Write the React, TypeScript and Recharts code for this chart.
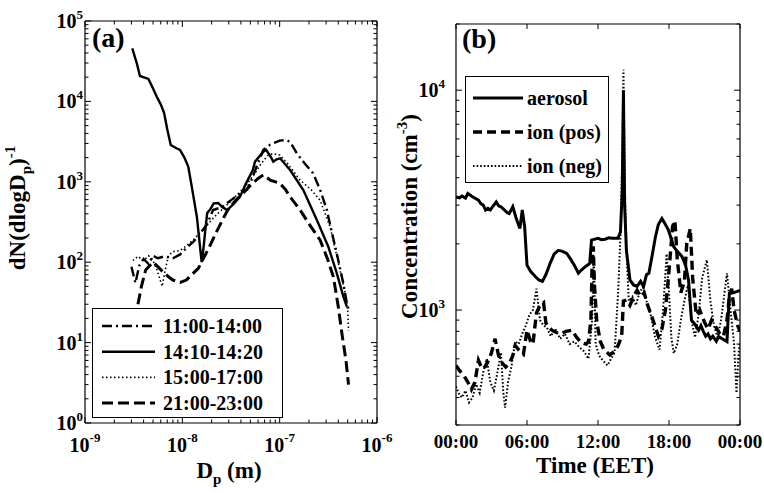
import React from 'react';
import { LineChart, Line, XAxis, YAxis, Legend } from 'recharts';

const FONT = '"Liberation Serif", "Times New Roman", serif';
const INK = '#000';

// (a) size distributions: [Dp (m), dN/dlogDp]
const dist1100 = [
  [3.0e-9, 88], [3.3e-9, 55], [3.6e-9, 90], [4.0e-9, 110], [4.5e-9, 95], [5.0e-9, 120],
  [5.6e-9, 112], [6.5e-9, 118], [8.0e-9, 112], [9.5e-9, 125], [1.1e-8, 150], [1.3e-8, 180],
  [1.5e-8, 220], [1.8e-8, 300], [2.07e-8, 446], [2.5e-8, 480], [2.86e-8, 540], [3.5e-8, 650],
  [4.0e-8, 720], [4.6e-8, 800], [5.0e-8, 970], [5.8e-8, 1550], [6.8e-8, 2500], [8.0e-8, 2900],
  [8.8e-8, 3050], [1.0e-7, 3250], [1.15e-7, 3300], [1.28e-7, 3150], [1.5e-7, 2260], [1.8e-7, 1700],
  [2.2e-7, 1280], [2.6e-7, 800], [3.05e-7, 447], [3.4e-7, 250], [3.86e-7, 129], [4.5e-7, 55],
  [4.9e-7, 31], [5.1e-7, 26],
];
const dist1410 = [
  [3.06e-9, 45700], [3.4e-9, 30000], [3.67e-9, 20700], [4.1e-9, 19800], [4.48e-9, 19000],
  [5.0e-9, 14500], [5.46e-9, 11400], [6.0e-9, 9200], [6.49e-9, 7200], [7.0e-9, 4500],
  [7.6e-9, 2870], [8.5e-9, 2650], [9.46e-9, 2490], [1.05e-8, 2000], [1.15e-8, 1550],
  [1.25e-8, 870], [1.41e-8, 368], [1.52e-8, 155], [1.58e-8, 100], [1.65e-8, 150], [1.71e-8, 230],
  [1.8e-8, 409], [1.95e-8, 460], [2.1e-8, 540], [2.33e-8, 545], [2.6e-8, 480], [2.9e-8, 446],
  [3.4e-8, 540], [3.92e-8, 653], [4.5e-8, 950], [5.3e-8, 1400], [5.58e-8, 1780], [6.8e-8, 2370],
  [7.25e-8, 2490], [8.0e-8, 2100], [8.61e-8, 1780], [9.3e-8, 1900], [1.01e-7, 1960],
  [1.28e-7, 1400], [1.75e-7, 791], [2.41e-7, 335], [3.16e-7, 156], [3.86e-7, 73], [4.52e-7, 37],
  [4.9e-7, 28],
];
const dist1500 = [
  [3.1e-9, 105], [3.5e-9, 118], [4.0e-9, 105], [4.5e-9, 120], [4.9e-9, 110], [5.5e-9, 80],
  [6.2e-9, 50], [6.6e-9, 75], [7.2e-9, 120], [8.0e-9, 135], [9.5e-9, 140], [1.1e-8, 160],
  [1.3e-8, 190], [1.5e-8, 230], [1.8e-8, 290], [2.2e-8, 380], [2.8e-8, 500], [3.5e-8, 650],
  [4.5e-8, 900], [5.5e-8, 1250], [6.5e-8, 1700], [7.5e-8, 2100], [8.5e-8, 2250], [1.0e-7, 2150],
  [1.2e-7, 1700], [1.62e-7, 1050], [2.1e-7, 800], [2.6e-7, 590], [3.3e-7, 275], [4.18e-7, 79],
  [4.7e-7, 42], [5.0e-7, 25], [5.1e-7, 14],
];
const dist2100 = [
  [3.5e-9, 30], [3.8e-9, 50], [4.2e-9, 80], [5.0e-9, 100], [5.5e-9, 90], [6.3e-9, 76],
  [7.2e-9, 66], [8.0e-9, 60], [9.5e-9, 56], [1.1e-8, 60], [1.25e-8, 70], [1.46e-8, 84],
  [1.7e-8, 120], [1.94e-8, 164], [2.25e-8, 240], [2.9e-8, 440], [3.5e-8, 580], [4.2e-8, 720],
  [5.0e-8, 900], [6.0e-8, 1100], [6.8e-8, 1220], [8.0e-8, 1050], [1.0e-7, 960], [1.15e-7, 800],
  [1.28e-7, 650], [1.62e-7, 447], [2.0e-7, 300], [2.6e-7, 189], [3.1e-7, 110], [3.56e-7, 66],
  [4.0e-7, 28], [4.4e-7, 12], [4.8e-7, 6], [5.1e-7, 3],
];

// (b) time series: [hour of day, concentration cm^-3]
const aerosol = [
  [0, 3270], [0.3, 3240], [0.5, 3300], [0.8, 3230], [1, 3390], [1.3, 3300], [1.5, 3250],
  [1.9, 3160], [2.1, 3050], [2.3, 3000], [2.5, 2850], [2.7, 2900], [2.9, 2850], [3.1, 2950],
  [3.4, 3100], [3.6, 2980], [3.8, 2950], [4.1, 2850], [4.3, 2780], [4.5, 2750], [4.8, 2950],
  [5.1, 2600], [5.4, 2350], [5.6, 2850], [5.8, 2400], [6.0, 1600], [6.3, 1500], [6.7, 1420],
  [7.0, 1370], [7.3, 1350], [7.6, 1450], [7.95, 1630], [8.3, 1800], [8.65, 1870], [9.0, 1850],
  [9.36, 1810], [9.7, 1700], [10.0, 1600], [10.34, 1470], [10.6, 1520], [10.9, 1570],
  [11.3, 1630], [11.45, 2080], [12.0, 2120], [12.3, 2090], [12.6, 2100], [12.9, 2130],
  [13.2, 2120], [13.7, 2120], [13.9, 2270], [14.05, 3500], [14.15, 10000], [14.25, 3000],
  [14.4, 1870], [14.7, 1370], [15.0, 1300], [15.3, 1280], [15.6, 1350], [15.85, 1280],
  [16.1, 1450], [16.3, 1470], [16.6, 1800], [16.85, 2150], [17.1, 2450], [17.4, 2610],
  [17.7, 2450], [17.95, 2310], [18.2, 2100], [18.4, 1940], [18.7, 1850], [19.1, 1750],
  [19.4, 1600], [19.65, 1370], [19.9, 900], [20.2, 860], [20.5, 810], [20.7, 850], [20.9, 800],
  [21.1, 760], [21.3, 780], [21.5, 740], [21.7, 760], [22.0, 720], [22.2, 757], [22.5, 740],
  [22.9, 718], [23.1, 1190], [23.5, 1200], [24, 1230],
];
const ionPos = [
  [0, 560], [0.3, 530], [0.7, 500], [1.0, 470], [1.3, 435], [1.6, 470], [1.9, 590], [2.2, 540],
  [2.5, 555], [2.8, 600], [3.0, 640], [3.3, 740], [3.6, 620], [3.9, 575], [4.2, 550], [4.5, 570],
  [4.8, 620], [5.0, 690], [5.3, 660], [5.7, 630], [6.0, 810], [6.3, 720], [6.5, 700], [6.8, 970],
  [7.1, 1050], [7.4, 1080], [7.6, 870], [7.9, 830], [8.1, 810], [8.5, 790], [8.9, 780],
  [9.3, 800], [9.8, 810], [10.2, 750], [10.6, 710], [11.0, 700], [11.2, 720], [11.4, 900],
  [11.5, 1600], [11.6, 1950], [11.7, 1300], [11.9, 880], [12.2, 720], [12.5, 660], [13.0, 625],
  [13.4, 650], [13.7, 690], [14.0, 760], [14.15, 1100], [14.4, 1110], [14.7, 1050], [15.0, 1150],
  [15.3, 1230], [15.6, 1150], [15.9, 1200], [16.2, 1050], [16.5, 950], [16.8, 850], [17.1, 760],
  [17.4, 820], [17.7, 1000], [18.0, 1500], [18.3, 2400], [18.5, 2550], [18.7, 1700],
  [19.0, 1200], [19.3, 1350], [19.5, 2000], [19.8, 2350], [20.0, 1400], [20.3, 950],
  [20.6, 1000], [21.0, 880], [21.3, 820], [21.6, 900], [22.0, 830], [22.3, 780], [22.6, 760],
  [22.9, 900], [23.1, 1150], [23.3, 1250], [23.5, 1000], [23.8, 850], [24, 800],
];
const ionNeg = [
  [0, 450], [0.2, 420], [0.5, 400], [0.8, 430], [1.1, 380], [1.4, 400], [1.7, 460], [2.0, 420],
  [2.3, 520], [2.6, 600], [2.9, 470], [3.2, 430], [3.5, 520], [3.8, 640], [4.0, 420],
  [4.15, 360], [4.4, 470], [4.7, 560], [5.0, 720], [5.3, 700], [5.6, 780], [5.9, 850],
  [6.2, 950], [6.5, 1000], [6.8, 1250], [7.1, 900], [7.4, 850], [7.7, 830], [8.0, 760],
  [8.4, 820], [8.8, 740], [9.2, 780], [9.6, 700], [10.0, 720], [10.4, 680], [10.8, 650],
  [11.2, 600], [11.5, 900], [11.65, 1750], [11.8, 700], [12.1, 620], [12.4, 590], [12.8, 560],
  [13.1, 600], [13.4, 640], [13.7, 1200], [13.9, 2200], [14.05, 5000], [14.15, 12400],
  [14.25, 4000], [14.4, 1900], [14.6, 1100], [14.9, 1150], [15.2, 1050], [15.5, 1200],
  [15.8, 1270], [16.1, 1100], [16.5, 930], [16.8, 760], [17.2, 660], [17.5, 1000], [17.8, 1800],
  [18.0, 1200], [18.2, 750], [18.4, 635], [18.7, 700], [19.0, 900], [19.3, 1100], [19.6, 1300],
  [19.9, 900], [20.2, 750], [20.5, 950], [20.8, 1400], [21.2, 1690], [21.5, 1100], [21.8, 850],
  [22.1, 750], [22.4, 900], [22.9, 1470], [23.2, 1000], [23.5, 700], [23.7, 420], [23.9, 650],
  [24, 720],
];

const timeTicks = [0, 6, 12, 18, 24];
const timeLabels = ['00:00', '06:00', '12:00', '18:00', '00:00'];

const toPts = (arr: number[][]) => arr.map(([x, y]) => ({ x, y }));

const sizeSeries = [
  { name: '11:00-14:00', pts: dist1100, dash: '10 4 2 4', width: 2.4 },
  { name: '14:10-14:20', pts: dist1410, dash: undefined, width: 2.4 },
  { name: '15:00-17:00', pts: dist1500, dash: '1.5 2.5', width: 1.6 },
  { name: '21:00-23:00', pts: dist2100, dash: '11 5', width: 3 },
];
const timeSeries = [
  { name: 'aerosol', pts: aerosol, dash: undefined, width: 3 },
  { name: 'ion (pos)', pts: ionPos, dash: '9 5', width: 3.4 },
  { name: 'ion (neg)', pts: ionNeg, dash: '1.6 2', width: 2 },
];

// log ticks: 1..9 per decade
const decadeTicks = (from: number, to: number) => {
  const out: number[] = [];
  for (let e = from; e < to; e++) {
    for (let m = 1; m <= 9; m++) out.push(Number(`${m}e${e}`));
  }
  out.push(Number(`1e${to}`));
  return out;
};
const sizeTicks = decadeTicks(-9, -6);
const dndTicks = decadeTicks(0, 5);
const concTicks = [...decadeTicks(2, 4).filter((v) => v >= 300), 20000];

const isPow10 = (v: number) => {
  const e = Math.log10(v);
  return Math.abs(e - Math.round(e)) < 1e-6;
};
const exp10 = (v: number) => Math.round(Math.log10(v));

const txt = { fontFamily: FONT, fontWeight: 700, fill: INK } as const;

type Side = 'left' | 'right' | 'top' | 'bottom';
type LabelFn = (x: number, y: number, v: number) => React.ReactNode;

function makeTick(side: Side, major: (v: number) => boolean, label?: LabelFn, majorLen = 6, minorLen = 3.5) {
  return function Tick(props: any) {
    const { x, y, payload } = props;
    const v = payload.value;
    const big = major(v);
    const len = big ? majorLen : minorLen;
    const dx = side === 'left' ? len : side === 'right' ? -len : 0;
    const dy = side === 'bottom' ? -len : side === 'top' ? len : 0;
    return (
      <g>
        <line x1={x} y1={y} x2={x + dx} y2={y + dy} stroke={INK} strokeWidth={1} />
        {big && label ? label(x, y, v) : null}
      </g>
    );
  };
}

const powLeft = (gap: number): LabelFn => (x, y, v) => (
  <text x={x - gap} y={y + 7} textAnchor="end" fontSize={20} {...txt}>
    10<tspan dy={-9} fontSize={13}>{exp10(v)}</tspan>
  </text>
);
const powBottom: LabelFn = (x, y, v) => (
  <text x={x} y={y + 29} textAnchor="middle" fontSize={20} {...txt}>
    10<tspan dy={-10} fontSize={13}>{exp10(v)}</tspan>
  </text>
);
const timeBottom: LabelFn = (x, y, v) => (
  <text x={x} y={y + 23} textAnchor="middle" fontSize={19} {...txt}>
    {timeLabels[timeTicks.indexOf(v)]}
  </text>
);

const always = () => true;
const tickA = {
  bottom: makeTick('bottom', isPow10, powBottom),
  top: makeTick('top', isPow10),
  left: makeTick('left', isPow10, powLeft(2)),
  right: makeTick('right', isPow10),
};
const tickB = {
  bottom: makeTick('bottom', always, timeBottom, 5),
  top: makeTick('top', always, undefined, 5),
  left: makeTick('left', isPow10, powLeft(11)),
  right: makeTick('right', isPow10),
};

const axisLine = { stroke: INK, strokeWidth: 1.2 };

const titleDn = (p: any) => {
  const vb = p.viewBox || { x: 0, y: 21, width: 85, height: 402 };
  const cx = vb.x + 25;
  const cy = vb.y + vb.height / 2 - 14;
  return (
    <text x={cx} y={cy} transform={`rotate(-90 ${cx} ${cy})`} textAnchor="middle" fontSize={23} {...txt}>
      dN(dlogD<tspan dy={6} fontSize={15}>p</tspan>
      <tspan dy={-6}>)</tspan>
      <tspan dy={-10} fontSize={15}>-1</tspan>
    </text>
  );
};
const titleDp = (p: any) => {
  const vb = p.viewBox || { x: 85, y: 423, width: 292, height: 70 };
  return (
    <text x={vb.x + vb.width / 2 - 2} y={vb.y + 55} textAnchor="middle" fontSize={23} {...txt}>
      D<tspan dy={6} fontSize={15}>p</tspan>
      <tspan dy={-6}> (m)</tspan>
    </text>
  );
};
const titleTime = (p: any) => {
  const vb = p.viewBox || { x: 76, y: 425, width: 284, height: 68 };
  return (
    <text x={vb.x + vb.width / 2 - 3} y={vb.y + 48} textAnchor="middle" fontSize={23} {...txt}>
      Time (EET)
    </text>
  );
};
const titleConc = (p: any) => {
  const vb = p.viewBox || { x: 0, y: 24, width: 76, height: 401 };
  const cx = vb.x + 37;
  const cy = vb.y + vb.height / 2 - 8;
  return (
    <text x={cx} y={cy} transform={`rotate(-90 ${cx} ${cy})`} textAnchor="middle" fontSize={23} {...txt}>
      Concentration (cm<tspan dy={-10} fontSize={15}>-3</tspan>
      <tspan dy={10}>)</tspan>
    </text>
  );
};
const panelTag = (tag: string, x: number, y: number) => () => (
  <text x={x} y={y} fontSize={28} {...txt}>{tag}</text>
);

function LegendBox({ items, w, h, y0, step, x1, x2, tx }: any) {
  return (
    <svg width={w} height={h} style={{ display: 'block' }}>
      <rect x={0.5} y={0.5} width={w - 1} height={h - 1} fill="#fff" stroke={INK} strokeWidth={1} />
      {items.map((s: any, i: number) => {
        const cy = y0 + i * step;
        return (
          <g key={s.name}>
            <line x1={x1} x2={x2} y1={cy} y2={cy} stroke={INK} strokeWidth={s.width} strokeDasharray={s.dash} />
            <text x={tx} y={cy + 7} fontSize={20} {...txt}>{s.name}</text>
          </g>
        );
      })}
    </svg>
  );
}

function SizePanel() {
  return (
    <LineChart width={400} height={493} margin={{ top: 11, right: 22, bottom: 0, left: 0 }}>
      <XAxis dataKey="x" type="number" scale="log" domain={[1e-9, 1e-6]} allowDataOverflow
        ticks={sizeTicks} interval={0} tickSize={0} tickMargin={0} tickLine={false}
        height={70} axisLine={axisLine} tick={tickA.bottom} label={titleDp} />
      <XAxis xAxisId="top" orientation="top" dataKey="x" type="number" scale="log" domain={[1e-9, 1e-6]}
        allowDataOverflow ticks={sizeTicks} interval={0} tickSize={0} tickMargin={0} tickLine={false}
        height={10} axisLine={axisLine} tick={tickA.top} label={panelTag('(a)', 92, 47)} />
      <YAxis type="number" scale="log" domain={[1, 1e5]} allowDataOverflow ticks={dndTicks} interval={0}
        tickSize={0} tickMargin={0} tickLine={false} width={85} axisLine={axisLine} tick={tickA.left}
        label={titleDn} />
      <YAxis yAxisId="right" orientation="right" type="number" scale="log" domain={[1, 1e5]} allowDataOverflow
        ticks={dndTicks} interval={0} tickSize={0} tickMargin={0} tickLine={false} width={1}
        axisLine={axisLine} tick={tickA.right} />
      {sizeSeries.map((s) => (
        <Line key={s.name} data={toPts(s.pts)} dataKey="y" name={s.name} type="linear" stroke={INK}
          strokeWidth={s.width} strokeDasharray={s.dash} dot={false} activeDot={false}
          isAnimationActive={false} />
      ))}
      <Legend layout="vertical" align="center" verticalAlign="middle"
        wrapperStyle={{ left: 92, top: 308, width: 191, height: 110 }}
        content={() => <LegendBox items={sizeSeries} w={191} h={110} y0={18} step={25.7} x1={10} x2={63} tx={71} />} />
    </LineChart>
  );
}

function TimePanel() {
  return (
    <LineChart width={384} height={493} margin={{ top: 14, right: 23, bottom: 0, left: 0 }}>
      <XAxis dataKey="x" type="number" domain={[0, 24]} allowDataOverflow ticks={timeTicks} interval={0}
        tickSize={0} tickMargin={0} tickLine={false} height={68} axisLine={axisLine} tick={tickB.bottom}
        label={titleTime} />
      <XAxis xAxisId="top" orientation="top" dataKey="x" type="number" domain={[0, 24]} allowDataOverflow
        ticks={timeTicks} interval={0} tickSize={0} tickMargin={0} tickLine={false} height={10}
        axisLine={axisLine} tick={tickB.top} label={panelTag('(b)', 82, 48)} />
      <YAxis type="number" scale="log" domain={[300, 20000]} allowDataOverflow ticks={concTicks} interval={0}
        tickSize={0} tickMargin={0} tickLine={false} width={76} axisLine={axisLine} tick={tickB.left}
        label={titleConc} />
      <YAxis yAxisId="right" orientation="right" type="number" scale="log" domain={[300, 20000]}
        allowDataOverflow ticks={concTicks} interval={0} tickSize={0} tickMargin={0} tickLine={false}
        width={1} axisLine={axisLine} tick={tickB.right} />
      {timeSeries.map((s) => (
        <Line key={s.name} data={toPts(s.pts)} dataKey="y" name={s.name} type="linear" stroke={INK}
          strokeWidth={s.width} strokeDasharray={s.dash} dot={false} activeDot={false}
          isAnimationActive={false} />
      ))}
      <Legend layout="vertical" align="center" verticalAlign="middle"
        wrapperStyle={{ left: 85, top: 76, width: 144, height: 107 }}
        content={() => <LegendBox items={timeSeries} w={144} h={107} y0={22} step={34} x1={8} x2={58} tx={62} />} />
    </LineChart>
  );
}

export default function App() {
  return (
    <div style={{ position: 'absolute', left: 0, top: 0, width: 764, height: 493, background: '#fff', overflow: 'hidden' }}>
      <div style={{ position: 'absolute', left: 0, top: 0 }}>
        <SizePanel />
      </div>
      <div style={{ position: 'absolute', left: 380, top: 0 }}>
        <TimePanel />
      </div>
    </div>
  );
}
